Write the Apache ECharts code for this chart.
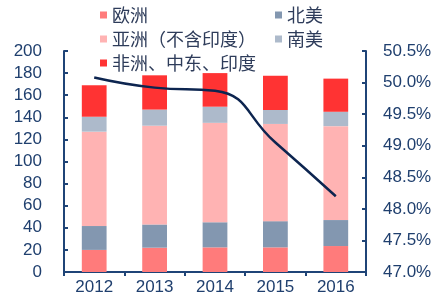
<!DOCTYPE html>
<html><head><meta charset="utf-8">
<script src="https://cdn.jsdelivr.net/npm/echarts@6/dist/echarts.min.js"></script>
<style>html,body{margin:0;padding:0;background:#fff}#c{width:445px;height:300px}</style>
</head><body><div id="c"></div>
<script>
var years = ['2012','2013','2014','2015','2016'];
var europe = [20, 22, 22.3, 22.3, 23.5];
var northAmerica = [21.6, 21, 22.7, 23.7, 23.5];
var asia = [85.4, 89.4, 90, 88, 85];
var southAmerica = [13.5, 14.6, 14.6, 12.6, 13];
var africaME = [28.5, 31, 30.4, 31, 30];
var share = [50.08, 49.92, 49.87, 49.05, 48.2];
var leftTicks = [0, 200, 20];
var rightTicks = [47, 50.5, 0.5];

var names = ['欧洲','北美','亚洲（不含印度）','南美','非洲、中东、印度'];
var colors = ['#FF7B7B','#8397B0','#FFB3B3','#ADBACB','#FF3333'];
var vals = [europe, northAmerica, asia, southAmerica, africaME];
var axisColor = '#1F4477';
var textColor = '#1F3F6E';
var font = 'Liberation Sans, Arial, sans-serif';

var series = names.map(function(n,i){
  return {name:n, type:'bar', stack:'t', data:vals[i], barWidth:'41%',
    itemStyle:{color:colors[i]}};
});
series.push({name:'share', type:'line', yAxisIndex:1, data:share, smooth:true,
  symbol:'none', lineStyle:{color:'#0D2550', width:2.5}, z:10});

var chart = echarts.init(document.getElementById('c'), null, {renderer:'canvas'});
var legendCommon = {orient:'vertical', itemWidth:7, itemHeight:7, itemGap:6, icon:'rect',
  padding:0,
  textStyle:{fontSize:18, lineHeight:18, color:'#2E3C5A', fontFamily:'Noto Sans CJK SC', padding:[0,0,0,0]}};
chart.setOption({
  animation:false,
  grid:{left:64, right:79, top:51, bottom:28},
  legend:[
    Object.assign({}, legendCommon, {left:100, top:6, data:[names[0],names[2],names[4]]}),
    Object.assign({}, legendCommon, {left:275, top:6, data:[names[1],names[3]]})
  ],
  xAxis:{type:'category', data:years,
    axisLine:{lineStyle:{color:axisColor, width:2}},
    axisTick:{show:true, inside:false, length:4, lineStyle:{color:axisColor, width:2}},
    axisLabel:{fontSize:17, color:textColor, fontFamily:font, margin:7}},
  yAxis:[
    {type:'value', min:leftTicks[0], max:leftTicks[1], interval:leftTicks[2],
      splitLine:{show:false},
      axisLine:{show:true, lineStyle:{color:axisColor, width:2}},
      axisTick:{show:true, inside:true, length:4, lineStyle:{color:axisColor, width:2}},
      axisLabel:{fontSize:17, color:textColor, fontFamily:font, margin:22}},
    {type:'value', min:rightTicks[0], max:rightTicks[1], interval:rightTicks[2],
      splitLine:{show:false},
      axisLine:{show:true, lineStyle:{color:axisColor, width:2}},
      axisTick:{show:true, inside:true, length:4, lineStyle:{color:axisColor, width:2}},
      axisLabel:{fontSize:17, color:textColor, fontFamily:font, margin:17,
        formatter:function(v){return v.toFixed(1)+'%';}}}
  ],
  series:series
});
</script></body></html>
